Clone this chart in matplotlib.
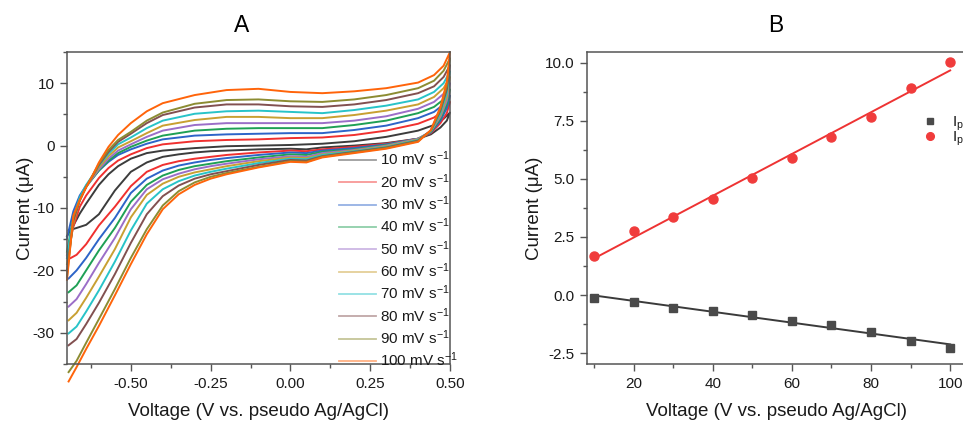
import numpy as np
import matplotlib
matplotlib.use('Agg')
import matplotlib.pyplot as plt
from matplotlib.lines import Line2D
from matplotlib.ticker import MultipleLocator, FormatStrFormatter

plt.rcParams['font.family'] = ['Liberation Sans', 'DejaVu Sans']
plt.rcParams['mathtext.default'] = 'regular'
plt.rcParams['axes.unicode_minus'] = False

# ---- panel A: CV loops at each scan rate ----
scan_rates = [10, 20, 30, 40, 50, 60, 70, 80, 90, 100]
cv_colors = ['#3c3c3c', '#f0302f', '#2d64c8', '#1fa055', '#9b6ec8',
             '#c8a032', '#28c3c8', '#825050', '#8c8c32', '#ff640a']

# negative-to-positive sweep (lower branch)
v_lower = [-0.695, -0.67, -0.64, -0.60, -0.55, -0.50, -0.45, -0.40, -0.35, -0.30, -0.25,
           -0.20, -0.10, 0.00, 0.05, 0.10, 0.20, 0.30, 0.40, 0.44, 0.47, 0.49, 0.50]
# positive-to-negative sweep (upper branch), stored with ascending voltage
v_upper = [-0.70, -0.68, -0.66, -0.64, -0.62, -0.60, -0.57, -0.54, -0.50, -0.45, -0.40,
           -0.30, -0.20, -0.10, 0.00, 0.10, 0.20, 0.30, 0.40, 0.45, 0.48, 0.50]

low_10 = [-13.6, -13.2, -12.7, -11.0, -7.2, -4.2, -2.7, -1.8, -1.4, -1.1, -0.9, -0.8, -0.6, -0.5, -0.6, -0.3, 0.0, 0.4, 1.1, 1.8, 2.9, 4.0, 5.3]
low_20 = [-18.2, -17.5, -15.8, -12.8, -9.8, -6.5, -4.2, -3.1, -2.5, -2.1, -1.8, -1.5, -1.1, -0.8, -0.9, -0.6, -0.2, 0.3, 1.1, 2.0, 3.6, 5.2, 7.0]
low_30 = [-21.3, -20.0, -18.0, -15.0, -11.6, -7.6, -5.3, -4.0, -3.2, -2.7, -2.3, -2.0, -1.5, -1.1, -1.2, -0.8, -0.4, 0.2, 1.1, 2.1, 4.0, 6.0, 8.0]
low_40 = [-23.5, -22.4, -20.0, -16.8, -13.2, -9.0, -6.3, -4.8, -3.9, -3.3, -2.9, -2.5, -1.9, -1.4, -1.5, -1.0, -0.6, 0.1, 1.1, 2.2, 4.3, 6.6, 9.0]
low_50 = [-25.8, -24.6, -22.2, -18.8, -14.8, -10.2, -7.0, -5.4, -4.5, -3.8, -3.3, -2.9, -2.2, -1.7, -1.8, -1.2, -0.7, 0.0, 1.1, 2.3, 4.6, 7.2, 10.0]
low_60 = [-28.0, -26.8, -24.4, -21.0, -16.6, -11.5, -7.9, -6.1, -5.0, -4.3, -3.8, -3.3, -2.5, -1.9, -2.0, -1.4, -0.8, -0.1, 1.0, 2.3, 4.9, 7.8, 11.0]
low_70 = [-30.1, -29.0, -26.6, -23.2, -18.6, -13.6, -9.3, -7.0, -5.7, -4.8, -4.2, -3.7, -2.8, -2.1, -2.2, -1.5, -0.9, -0.2, 0.9, 2.3, 5.2, 8.4, 11.9]
low_80 = [-32.0, -31.0, -28.6, -25.2, -20.6, -15.6, -11.0, -8.1, -6.4, -5.3, -4.6, -4.1, -3.1, -2.3, -2.4, -1.7, -1.0, -0.3, 0.8, 2.4, 5.6, 9.0, 12.9]
low_90 = [-36.3, -34.5, -31.6, -27.8, -23.0, -18.0, -13.4, -9.6, -7.3, -5.9, -5.0, -4.4, -3.4, -2.5, -2.6, -1.8, -1.1, -0.4, 0.7, 2.4, 5.9, 9.6, 14.0]
low_100 = [-37.8, -35.5, -32.6, -28.9, -24.0, -19.0, -14.2, -10.2, -7.8, -6.3, -5.3, -4.6, -3.5, -2.6, -2.7, -1.9, -1.2, -0.5, 0.6, 2.5, 6.2, 10.2, 15.0]

up_10 = [-14.5, -12.8, -10.9, -9.3, -7.8, -6.3, -4.6, -3.3, -2.1, -1.2, -0.8, -0.4, -0.1, 0.0, 0.1, 0.3, 0.7, 1.4, 2.4, 3.3, 4.3, 5.3]
up_20 = [-17.5, -13.0, -9.8, -8.0, -6.6, -5.2, -3.6, -2.4, -1.4, -0.4, 0.2, 0.7, 0.9, 1.0, 1.2, 1.3, 1.7, 2.4, 3.5, 4.5, 5.6, 7.0]
up_30 = [-14.8, -10.5, -8.0, -6.4, -5.2, -4.0, -2.6, -1.5, -0.6, 0.3, 1.0, 1.6, 1.8, 1.9, 2.0, 2.0, 2.5, 3.2, 4.4, 5.4, 6.6, 8.0]
up_40 = [-17.0, -11.5, -8.5, -6.6, -5.3, -4.0, -2.4, -1.2, -0.2, 0.8, 1.6, 2.4, 2.7, 2.8, 2.8, 2.8, 3.3, 4.0, 5.2, 6.2, 7.4, 9.0]
up_50 = [-18.0, -12.0, -8.6, -6.6, -5.2, -3.8, -2.1, -0.8, 0.2, 1.4, 2.4, 3.3, 3.6, 3.6, 3.6, 3.6, 4.0, 4.7, 5.9, 7.0, 8.3, 10.0]
up_60 = [-19.0, -12.5, -8.7, -6.6, -5.0, -3.5, -1.7, -0.3, 0.7, 2.0, 3.2, 4.1, 4.6, 4.6, 4.4, 4.4, 4.9, 5.6, 6.6, 7.8, 9.2, 11.0]
up_70 = [-18.0, -11.5, -8.3, -6.3, -4.8, -3.2, -1.3, 0.2, 1.3, 2.8, 4.0, 5.1, 5.5, 5.6, 5.4, 5.2, 5.7, 6.4, 7.4, 8.6, 10.0, 11.9]
up_80 = [-20.0, -12.0, -8.8, -6.6, -4.9, -3.1, -1.0, 0.6, 1.9, 3.6, 4.9, 6.1, 6.6, 6.6, 6.3, 6.2, 6.6, 7.3, 8.4, 9.5, 11.0, 12.9]
up_90 = [-21.0, -11.5, -8.8, -6.6, -4.8, -2.9, -0.7, 0.9, 2.2, 4.0, 5.3, 6.7, 7.3, 7.4, 7.1, 7.0, 7.4, 8.1, 9.2, 10.4, 12.0, 14.0]
up_100 = [-21.5, -11.2, -8.7, -6.7, -4.8, -2.7, -0.2, 1.7, 3.6, 5.5, 6.8, 8.1, 8.9, 9.1, 8.6, 8.4, 8.7, 9.2, 10.1, 11.3, 12.8, 15.0]

lower_branches = [low_10, low_20, low_30, low_40, low_50, low_60, low_70, low_80, low_90, low_100]
upper_branches = [up_10, up_20, up_30, up_40, up_50, up_60, up_70, up_80, up_90, up_100]

# ---- panel B: peak currents vs scan rate ----
rate = [10, 20, 30, 40, 50, 60, 70, 80, 90, 100]
ipc = [-0.11, -0.29, -0.55, -0.69, -0.85, -1.10, -1.30, -1.59, -1.96, -2.29]
ipa = [1.68, 2.77, 3.34, 4.13, 5.02, 5.91, 6.78, 7.67, 8.90, 10.01]

W, H = 963, 421
fig = plt.figure(figsize=(W / 100, H / 100), dpi=100)
ax1 = fig.add_axes([67 / W, 57 / H, 383 / W, 312 / H])
ax2 = fig.add_axes([587 / W, 57 / H, 379 / W, 312 / H])

spine_col = '#555555'
txt_col = '#1a1a1a'


def style_axes(ax):
    for s in ax.spines.values():
        s.set_color(spine_col)
        s.set_linewidth(1.1)
    ax.tick_params(which='both', direction='out', color=spine_col, width=1.0,
                   labelsize=11, labelcolor=txt_col, top=False, right=False)
    ax.tick_params(which='major', length=5, pad=4)
    ax.tick_params(which='minor', length=3)


for lo, up, c in zip(lower_branches, upper_branches, cv_colors):
    vv = list(v_lower) + list(v_upper[::-1])
    ii = list(lo) + list(up[::-1])
    ax1.plot(vv, ii, color=c, lw=1.4, clip_on=False, solid_joinstyle='round')

ax1.set_xlim(-0.7, 0.5)
ax1.set_ylim(-35, 15)
ax1.xaxis.set_major_locator(MultipleLocator(0.25))
ax1.xaxis.set_minor_locator(MultipleLocator(0.125))
ax1.xaxis.set_major_formatter(FormatStrFormatter('%.2f'))
ax1.yaxis.set_major_locator(MultipleLocator(10))
ax1.yaxis.set_minor_locator(MultipleLocator(5))
style_axes(ax1)
ax1.set_xlabel('Voltage (V vs. pseudo Ag/AgCl)', fontsize=13.5, color=txt_col, labelpad=9)
ax1.set_ylabel('Current (\u03bcA)', fontsize=13.5, color=txt_col, labelpad=-1)

handles = [Line2D([], [], color=c, lw=1.3, alpha=0.5) for c in cv_colors]
labels = ['%d mV s$^{-1}$' % r for r in scan_rates]
ax1.legend(handles, labels, loc='lower right', bbox_to_anchor=(1.026, -0.022),
           frameon=False, fontsize=11, labelspacing=0.245, handlelength=2.4,
           handletextpad=0.3, borderaxespad=0.0, borderpad=0.1, labelcolor=txt_col)

# panel B
fit_a = np.polyfit(rate, ipa, 1)
fit_c = np.polyfit(rate, ipc, 1)
xs = np.array([rate[0], rate[-1]])
ax2.plot(xs, np.polyval(fit_c, xs), color='#3a3a3a', lw=1.4)
ax2.plot(xs, np.polyval(fit_a, xs), color='#ee3333', lw=1.4)
ax2.plot(rate, ipc, 's', color='#4a4a4a', ms=5.5, label='I$_{pc}$')
ax2.plot(rate, ipa, 'o', color='#f03c3c', ms=6.5, label='I$_{pa}$')

ax2.set_xlim(8.2, 104)
ax2.set_ylim(-2.97, 10.46)
ax2.xaxis.set_major_locator(MultipleLocator(20))
ax2.xaxis.set_minor_locator(MultipleLocator(10))
ax2.yaxis.set_major_locator(MultipleLocator(2.5))
ax2.yaxis.set_minor_locator(MultipleLocator(1.25))
ax2.yaxis.set_major_formatter(FormatStrFormatter('%.1f'))
style_axes(ax2)
ax2.set_xlabel('Voltage (V vs. pseudo Ag/AgCl)', fontsize=13.5, color=txt_col, labelpad=9)
ax2.set_ylabel('Current (\u03bcA)', fontsize=13.5, color=txt_col, labelpad=1)
ax2.legend(loc='center left', bbox_to_anchor=(922 / W, 1 - 131 / H),
           bbox_transform=fig.transFigure, frameon=False, fontsize=11,
           handlelength=1.0, handletextpad=0.95, labelspacing=-0.2,
           borderpad=0, borderaxespad=0, markerscale=0.85, labelcolor=txt_col)

fig.text(242 / W, 1 - 25 / H, 'A', fontsize=16.5, ha='center', va='center', color='black')
fig.text(776 / W, 1 - 25 / H, 'B', fontsize=16.5, ha='center', va='center', color='black')

fig.savefig('out.png', dpi=100)
